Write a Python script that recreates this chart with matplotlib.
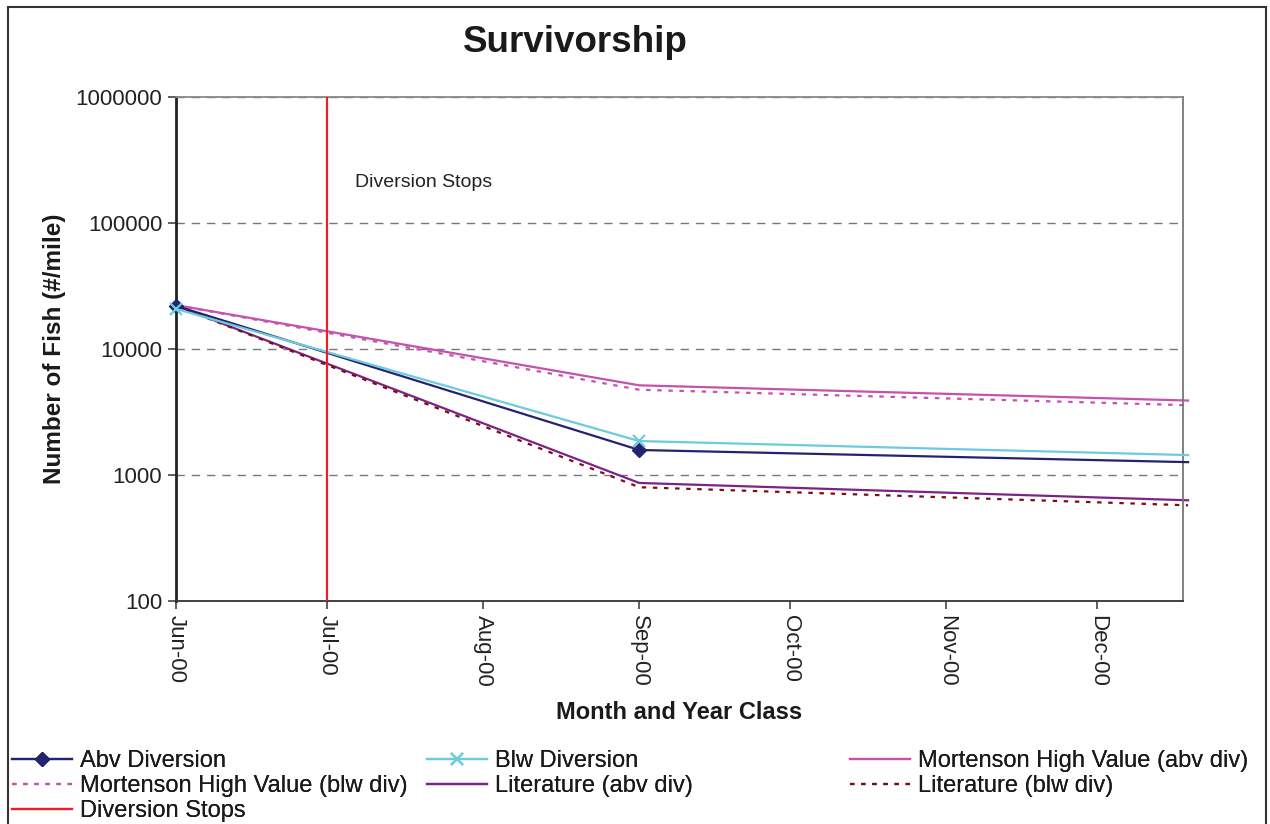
import datetime as dt
import matplotlib
matplotlib.use("Agg")
import matplotlib.pyplot as plt
import matplotlib.dates as mdates
from matplotlib.patches import Rectangle

plt.rcParams['font.family'] = ['Liberation Sans', 'DejaVu Sans']

# dates: start, Sep point, end of series
dates = [dt.date(2000, 6, 1), dt.date(2000, 9, 1), dt.date(2000, 12, 19)]
abv_div = [22000, 1580, 1265]
blw_div = [20800, 1860, 1440]
mort_abv = [22300, 5150, 3900]
mort_blw = [22300, 4750, 3580]
lit_abv = [22000, 865, 630]
lit_blw = [22000, 800, 575]
stop_date = dt.date(2000, 7, 1)
month_ticks = [dt.date(2000, m, 1) for m in range(6, 13)]

fig = plt.figure(figsize=(12.7, 8.24), dpi=100)
ax = fig.add_axes([0.1386, 0.2706, 0.7929, 0.6117])

h_abv, = ax.plot(dates, abv_div, color='#23236f', lw=1.6, marker='D', ms=7,
                 markevery=[0, 1], label='Abv Diversion', clip_on=False, zorder=5)
h_blw, = ax.plot(dates, blw_div, color='#6ccbdc', lw=1.6, marker='x', ms=9, mew=1.6,
                 markevery=[0, 1], label='Blw Diversion', clip_on=False, zorder=5)
h_ma, = ax.plot(dates, mort_abv, color='#c353ac', lw=1.6,
                label='Mortenson High Value (abv div)', clip_on=False)
h_mb, = ax.plot(dates, mort_blw, color='#c353ac', lw=1.6, ls=(0, (2, 3)),
                label='Mortenson High Value (blw div)', clip_on=False)
h_la, = ax.plot(dates, lit_abv, color='#7c2384', lw=1.6,
                label='Literature (abv div)', clip_on=False)
h_lb, = ax.plot(dates, lit_blw, color='#7a0f12', lw=1.6, ls=(0, (2, 3)),
                label='Literature (blw div)', clip_on=False)
h_stop = ax.axvline(stop_date, color='#e8202a', lw=1.6, label='Diversion Stops', zorder=6)

ax.set_yscale('log')
ax.set_ylim(100, 1000000)
ax.set_xlim(dt.date(2000, 6, 1), dt.date(2000, 12, 18))
ax.set_yticks([100, 1000, 10000, 100000, 1000000])
ax.set_yticklabels(['100', '1000', '10000', '100000', '1000000'])
ax.minorticks_off()
ax.set_xticks(month_ticks)
ax.xaxis.set_major_formatter(mdates.DateFormatter('%b-%y'))
for lbl in ax.get_xticklabels():
    lbl.set_rotation(-90)

ax.tick_params(axis='both', labelsize=16, direction='out', length=6,
               width=1.2, color='#444444', pad=4, labelcolor='#222222')
ax.yaxis.grid(True, ls=(0, (6, 5)), color='#777777', lw=1)
ax.set_axisbelow(True)

ax.spines['left'].set_color('#222222')
ax.spines['left'].set_linewidth(2)
ax.spines['bottom'].set_color('#333333')
ax.spines['bottom'].set_linewidth(1.3)
ax.spines['right'].set_color('#777777')
ax.spines['right'].set_linewidth(1.3)
ax.spines['top'].set_color('#888888')
ax.spines['top'].set_linewidth(1.3)

ax.text(0.178, 0.831, 'Diversion Stops', transform=ax.transAxes,
        fontsize=14, va='center', ha='left', color='#222222')

ax.set_ylabel('Number of Fish (#/mile)', fontsize=17.5, fontweight='bold',
              labelpad=7, color='#1a1a1a')
ax.set_xlabel('Month and Year Class', fontsize=17, fontweight='bold',
              labelpad=10, color='#1a1a1a')
fig.text(0.453, 0.949, 'Survivorship', fontsize=26.5, fontweight='bold',
         ha='center', va='center', color='#1a1a1a')

# legend in three equal-width columns, filled row by row
legend_cols = [
    (12 / 1270, [h_abv, h_mb, h_stop]),
    (427 / 1270, [h_blw, h_la]),
    (850 / 1270, [h_ma, h_lb]),
]
for x0, hs in legend_cols:
    leg = fig.legend(handles=hs, labels=[h.get_label() for h in hs],
                     loc='upper left', bbox_to_anchor=(x0, 0.0899),
                     fontsize=17, frameon=False, handlelength=2.55,
                     handletextpad=0.35, labelspacing=0.135,
                     borderpad=0.0, borderaxespad=0.0)
    for t in leg.get_texts():
        t.set_color('#1a1a1a')
    fig.add_artist(leg)

# outer chart border
fig.patches.append(Rectangle((0.006, -0.01), 0.991, 1.002, transform=fig.transFigure,
                             fill=False, edgecolor='#333333', lw=1.5))

fig.savefig('out.png', dpi=100)
